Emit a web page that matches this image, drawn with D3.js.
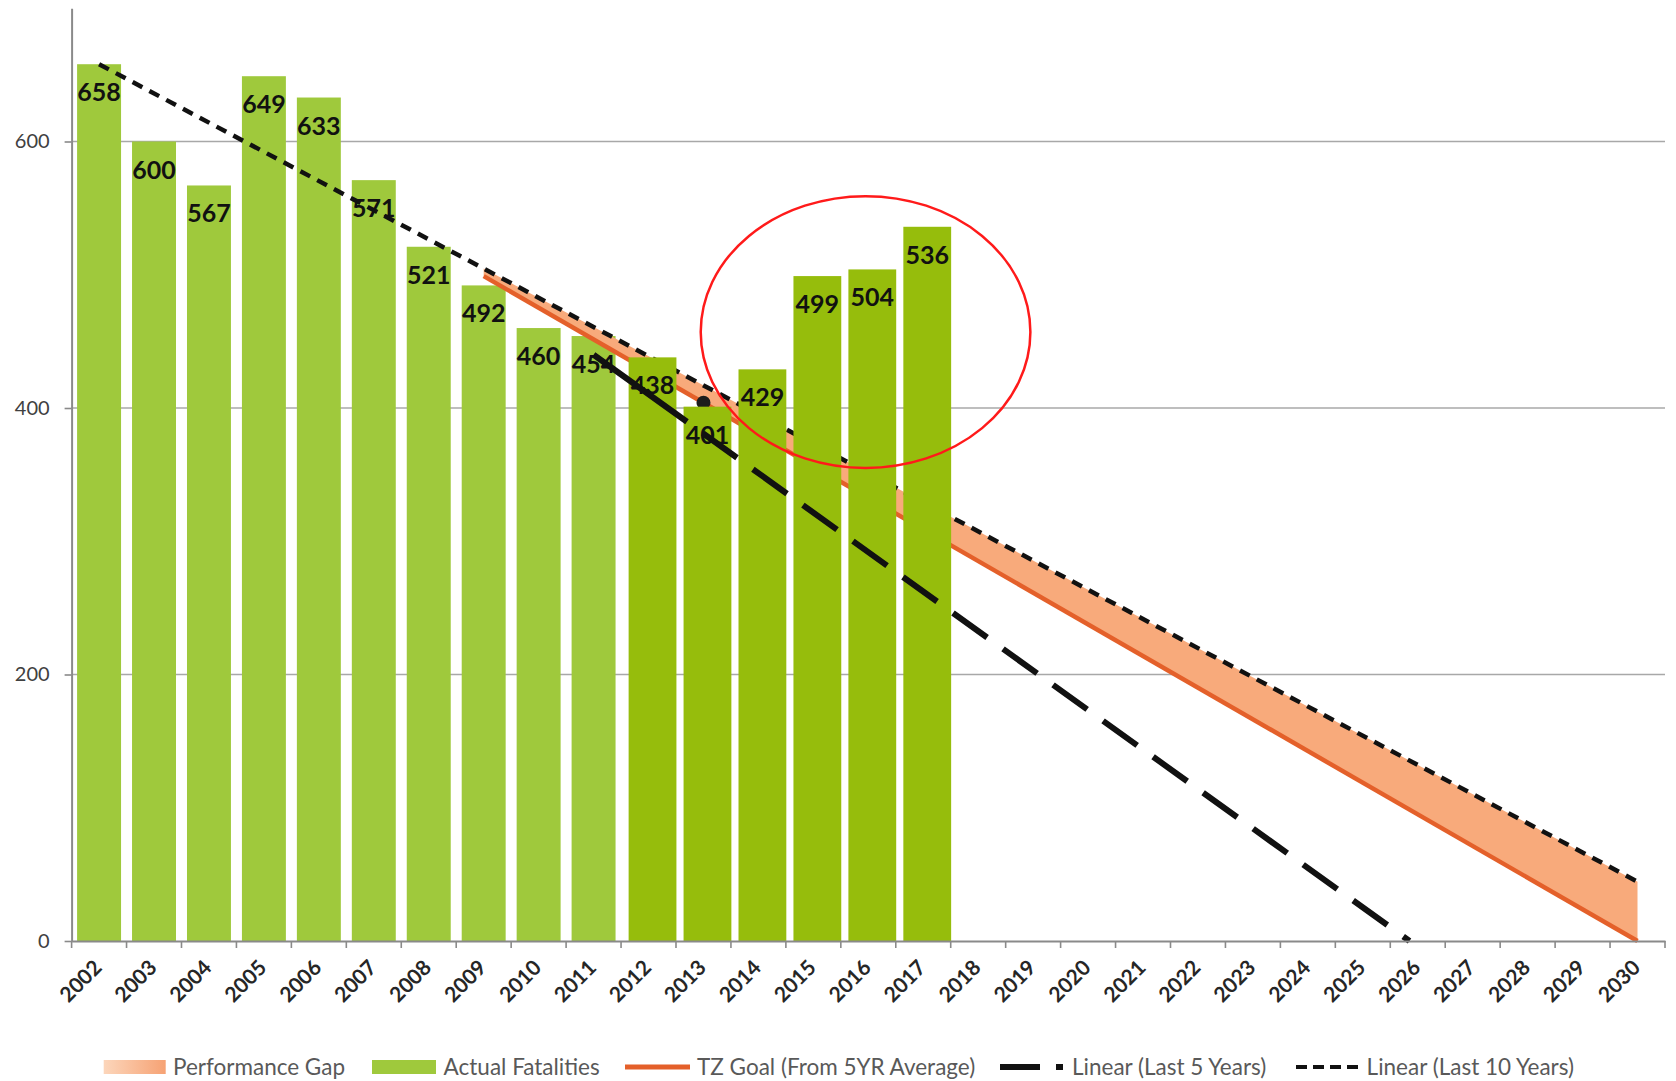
<!DOCTYPE html>
<html>
<head>
<meta charset="utf-8">
<script src="https://cdn.jsdelivr.net/npm/d3@7/dist/d3.min.js"></script>
<style>
  html, body { margin: 0; padding: 0; background: #ffffff; }
  svg { display: block; font-family: Lato, "Open Sans", "Noto Sans", sans-serif; }
</style>
</head>
<body>
<svg id="chart" width="1676" height="1081"></svg>
<script>
// ---- data ----
const yearLabels = ["2002","2003","2004","2005","2006","2007","2008","2009","2010","2011",
  "2012","2013","2014","2015","2016","2017","2018","2019","2020","2021","2022","2023",
  "2024","2025","2026","2027","2028","2029","2030"];
const fatalityYears = ["2002","2003","2004","2005","2006","2007","2008","2009","2010","2011",
  "2012","2013","2014","2015","2016","2017"];
const fatalities = [658, 600, 567, 649, 633, 571, 521, 492, 460, 454, 438, 401, 429, 499, 504, 536];
const recentFrom = 2012;               // bars from this year on use the darker shade
const goalLine = [[2009, 499], [2030, 0]];      // TZ Goal (from 5YR average)
const trend10 = [[2002, 658], [2030, 44.5]];    // Linear (last 10 years)
const trend5 = [[2011, 440], [2025.85, 0]];     // Linear (last 5 years)
const gapYears = [2009, 2030];                  // span of the performance gap band
const goalMarkerYear = 2013;
const yTicks = [0, 200, 400, 600];
const highlight = { year: 2015.95, value: 457, yearRadius: 3.0, valueRadius: 102 };
const legendItems = [
  { key: "gap",   label: "Performance Gap" },
  { key: "bars",  label: "Actual Fatalities" },
  { key: "goal",  label: "TZ Goal (From 5YR Average)" },
  { key: "t5",    label: "Linear (Last 5 Years)" },
  { key: "t10",   label: "Linear (Last 10 Years)" }
];

// ---- layout & style ----
const plot = { left: 71.6, right: 1665, top: 8.25, bottom: 941 };
const colors = {
  barOld: "#9fc93c", barNew: "#96bd0c", gap: "#f8aa7b", goal: "#e4602a",
  line: "#111111", axis: "#8a8a8a", grid: "#a8a8a8", text: "#404040", legend: "#595959",
  ring: "#ff1a1a"
};

const svg = d3.select("#chart");

const x = d3.scaleBand().domain(yearLabels).range([plot.left, plot.right]).padding(0);
const bw = x.bandwidth();
const xYear = d3.scaleLinear()
  .domain([+yearLabels[0], +yearLabels[yearLabels.length - 1]])
  .range([x(yearLabels[0]) + bw / 2, x(yearLabels[yearLabels.length - 1]) + bw / 2]);
const y = d3.scaleLinear().domain([0, 700]).range([plot.bottom, plot.top]);

const defs = svg.append("defs");
const grad = defs.append("linearGradient").attr("id", "gapGrad")
  .attr("x1", "0%").attr("x2", "100%").attr("y1", "0%").attr("y2", "0%");
grad.append("stop").attr("offset", "0%").attr("stop-color", "#fcd6bb");
grad.append("stop").attr("offset", "100%").attr("stop-color", "#f6a274");

// gridlines
svg.append("g").selectAll("line")
  .data(yTicks.filter(d => d > 0))
  .join("line")
  .attr("x1", plot.left).attr("x2", plot.right)
  .attr("y1", d => y(d)).attr("y2", d => y(d))
  .attr("stroke", colors.grid).attr("stroke-width", 1.6);

// y axis
const yAxis = svg.append("g")
  .attr("transform", `translate(${plot.left},0)`)
  .call(d3.axisLeft(y).tickValues(yTicks).tickSize(7).tickPadding(15).tickSizeOuter(0));
yAxis.select(".domain").attr("stroke", colors.axis).attr("stroke-width", 2);
yAxis.selectAll(".tick line").attr("stroke", colors.axis).attr("stroke-width", 1.6);
yAxis.selectAll(".tick text").attr("fill", colors.text)
  .style("font-size", "20px").style("font-family", "Lato, sans-serif");

const fatalData = fatalityYears.map((yr, i) => ({ year: yr, value: fatalities[i] }));
const oldBars = fatalData.filter(d => +d.year < recentFrom);
const newBars = fatalData.filter(d => +d.year >= recentFrom);

// older bars (behind the trend lines)
const oldW = bw * 0.8;
svg.append("g").selectAll("rect")
  .data(oldBars).join("rect")
  .attr("x", d => x(d.year) + (bw - oldW) / 2)
  .attr("width", oldW)
  .attr("y", d => y(d.value))
  .attr("height", d => y(0) - y(d.value))
  .attr("fill", colors.barOld);

// performance gap band between goal line and 10-year trend
const goalAt = d3.scaleLinear().domain(goalLine.map(p => p[0])).range(goalLine.map(p => p[1]));
const t10At = d3.scaleLinear().domain(trend10.map(p => p[0])).range(trend10.map(p => p[1]));
const gapArea = d3.area()
  .x(d => xYear(d))
  .y0(d => y(goalAt(d)))
  .y1(d => y(t10At(d)));
svg.append("path").datum(gapYears)
  .attr("d", gapArea)
  .attr("fill", colors.gap);

const lineGen = d3.line().x(p => xYear(p[0])).y(p => y(p[1]));

// TZ goal line
svg.append("path").datum(goalLine)
  .attr("d", lineGen)
  .attr("fill", "none").attr("stroke", colors.goal).attr("stroke-width", 4.5);

// goal marker
svg.append("circle")
  .attr("cx", xYear(goalMarkerYear)).attr("cy", y(goalAt(goalMarkerYear)))
  .attr("r", 7).attr("fill", "#1c1c1c");

// 10-year trend (short dashes)
svg.append("path").datum(trend10)
  .attr("d", lineGen)
  .attr("fill", "none").attr("stroke", colors.line)
  .attr("stroke-width", 4.5).attr("stroke-dasharray", "11,8");

// recent bars (in front of goal/10-year lines)
const newW = bw * 0.87;
svg.append("g").selectAll("rect")
  .data(newBars).join("rect")
  .attr("x", d => x(d.year) + (bw - newW) / 2 + 4)
  .attr("width", newW)
  .attr("y", d => y(d.value))
  .attr("height", d => y(0) - y(d.value))
  .attr("fill", colors.barNew);

// 5-year trend (long dashes, first run solid)
const t5Dash = ["115", "19.6"].concat(d3.range(30).flatMap(() => ["42", "19.6"])).join(",");
svg.append("path").datum(trend5)
  .attr("d", lineGen)
  .attr("fill", "none").attr("stroke", colors.line)
  .attr("stroke-width", 6).attr("stroke-dasharray", t5Dash);

// x axis
const xAxis = svg.append("g")
  .attr("transform", `translate(0,${plot.bottom})`)
  .call(d3.axisBottom(x).tickSize(0).tickSizeOuter(0));
xAxis.select(".domain").attr("stroke", colors.axis).attr("stroke-width", 2);
xAxis.selectAll(".tick text")
  .attr("x", null).attr("y", null).attr("dy", null)
  .attr("transform", "translate(4,28) rotate(-45)")
  .style("text-anchor", "end")
  .style("font-size", "21px").style("font-weight", "700")
  .style("font-family", "Lato, sans-serif")
  .attr("fill", "#262626");
// boundary tick marks
xAxis.append("g").selectAll("line")
  .data(yearLabels.map(d => x(d)).concat([x(yearLabels[yearLabels.length - 1]) + bw]))
  .join("line")
  .attr("x1", d => d).attr("x2", d => d)
  .attr("y1", 0).attr("y2", 7)
  .attr("stroke", colors.axis).attr("stroke-width", 1.6);

// value labels
svg.append("g").selectAll("text")
  .data(fatalData).join("text")
  .attr("x", d => x(d.year) + bw / 2 + (+d.year >= recentFrom ? 4 : 0))
  .attr("y", d => y(d.value) + 37)
  .attr("text-anchor", "middle")
  .style("font-size", "25px").style("font-weight", "700")
  .attr("fill", "#111111")
  .text(d => d.value);

// highlight ring around recent increases
svg.append("ellipse")
  .attr("cx", xYear(highlight.year))
  .attr("cy", y(highlight.value))
  .attr("rx", xYear(highlight.year + highlight.yearRadius) - xYear(highlight.year))
  .attr("ry", y(highlight.value - highlight.valueRadius) - y(highlight.value))
  .attr("fill", "none").attr("stroke", colors.ring).attr("stroke-width", 2.5);

// legend
const legendY = 1067;
const legendPos = {
  gap:  { sx: 103.7, sw: 62, tx: 173 },
  bars: { sx: 372,   sw: 64, tx: 443.6 },
  goal: { sx: 625,   sw: 65, tx: 697 },
  t5:   { sx: 1000,  sw: 63, tx: 1072 },
  t10:  { sx: 1296,  sw: 65, tx: 1366.6 }
};
const lg = svg.append("g").selectAll("g").data(legendItems).join("g");
lg.each(function (d) {
  const g = d3.select(this);
  const p = legendPos[d.key];
  if (d.key === "gap" || d.key === "bars") {
    g.append("rect").attr("x", p.sx).attr("y", legendY - 7).attr("width", p.sw).attr("height", 14)
      .attr("fill", d.key === "gap" ? "url(#gapGrad)" : colors.barOld);
  } else {
    const st = {
      goal: { c: colors.goal, w: 5, dash: null },
      t5:   { c: colors.line, w: 6, dash: "40,16" },
      t10:  { c: colors.line, w: 4, dash: "11,6" }
    }[d.key];
    g.append("line").attr("x1", p.sx).attr("x2", p.sx + p.sw)
      .attr("y1", legendY).attr("y2", legendY)
      .attr("stroke", st.c).attr("stroke-width", st.w)
      .attr("stroke-dasharray", st.dash);
  }
  g.append("text").attr("x", p.tx).attr("y", legendY + 8)
    .style("font-size", "22.5px").attr("fill", colors.legend)
    .text(d.label);
});
</script>
</body>
</html>
